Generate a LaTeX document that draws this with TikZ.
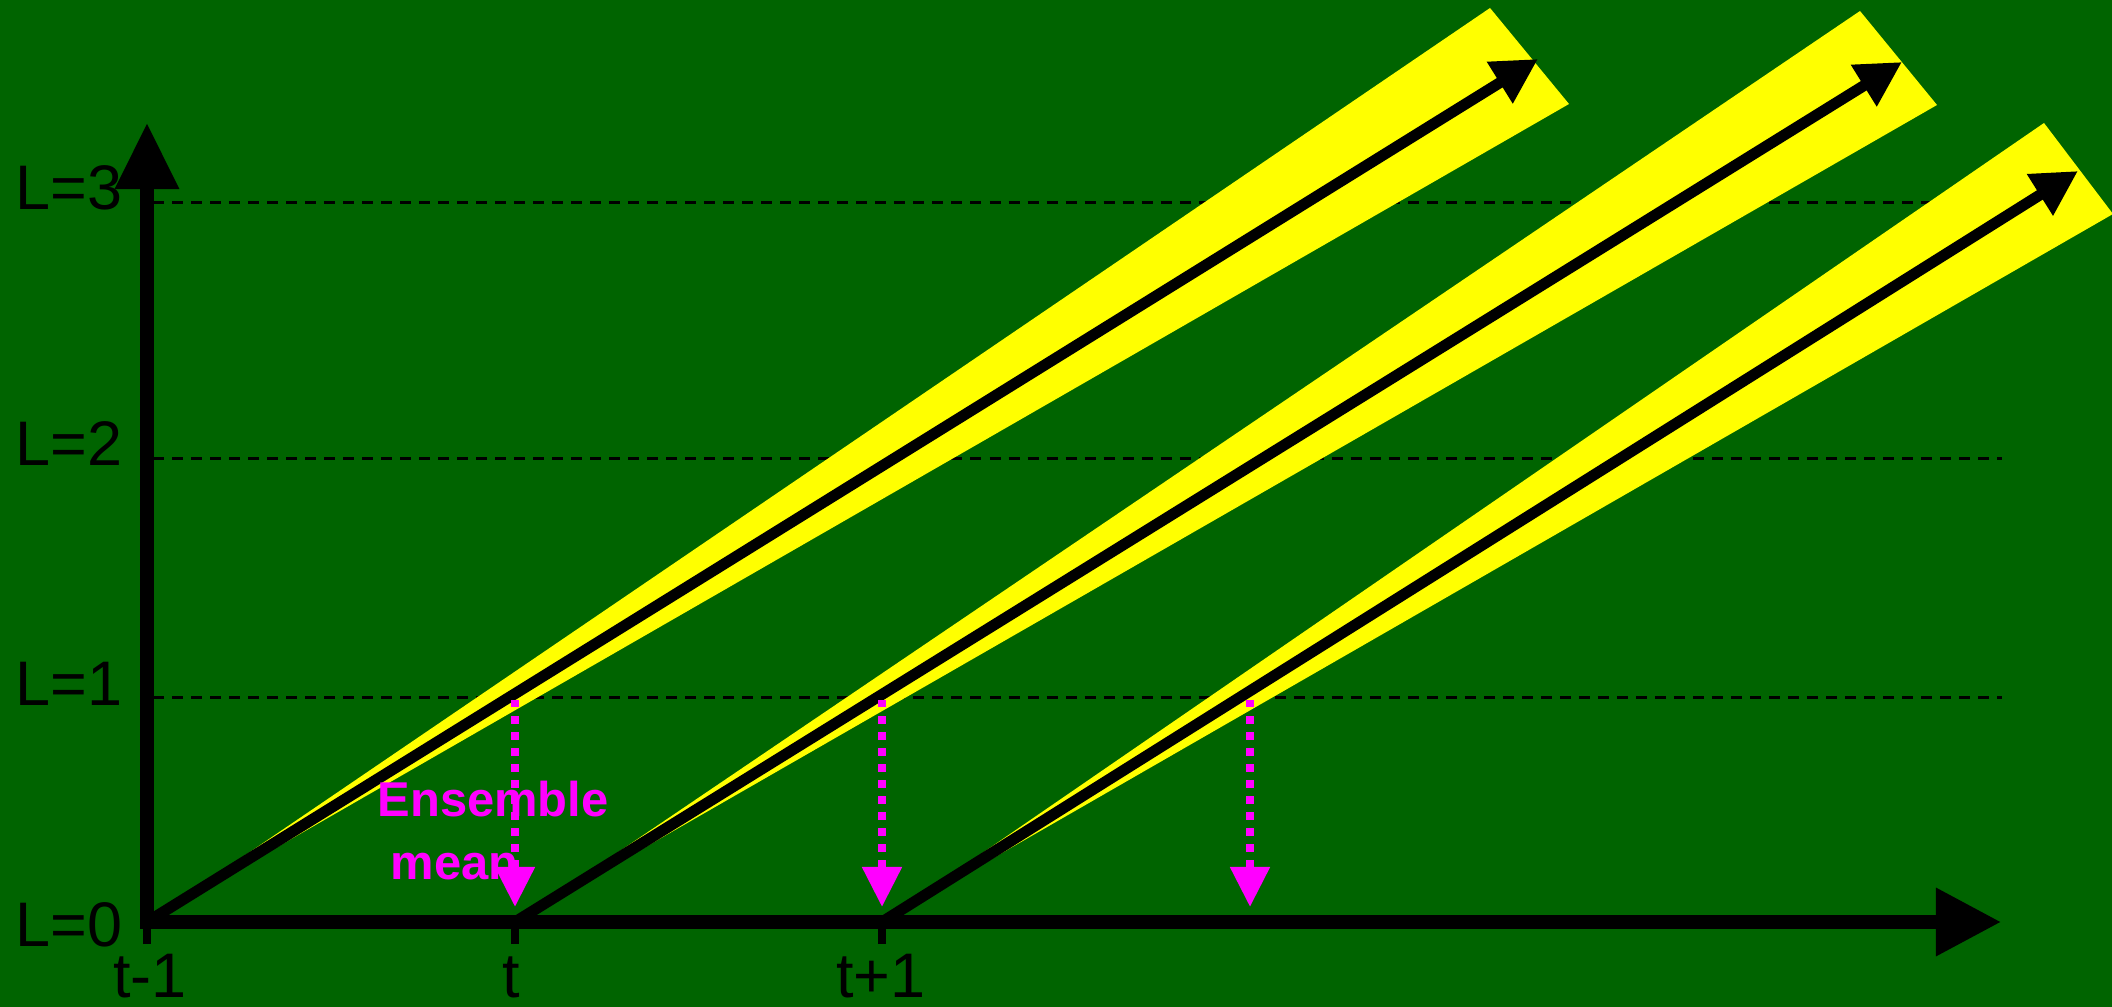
\documentclass[tikz,border=0pt]{standalone}
\usepackage{fontspec}
\setmainfont{Liberation Sans}
\usetikzlibrary{arrows.meta}

\definecolor{bggreen}{HTML}{006400}
\definecolor{bandyellow}{HTML}{FFFF00}
\definecolor{meanmag}{HTML}{FF00FF}

\begin{document}
\begin{tikzpicture}[
	x=0.01cm, y=-0.01cm,
	axis/.style={line width=0.13cm, black},
	tickmark/.style={line width=0.08cm, black},
	level/.style={line width=0.03cm, black, dash pattern=on 0.11cm off 0.08cm},
	band/.style={fill=bandyellow, draw=none},
	traj/.style={-{Triangle[length=0.45cm, width=0.46cm]}, line width=0.11cm, black},
	meanarr/.style={-{Triangle[length=0.40cm, width=0.38cm]}, line width=0.08cm,
		meanmag, dash pattern=on 0.075cm off 0.085cm},
	lvl/.style={font=\fontsize{17.9}{21}\selectfont, inner sep=0pt, anchor=base east},
	tlbl/.style={font=\fontsize{17.9}{21}\selectfont, inner sep=0pt, anchor=base},
	mlbl/.style={font=\bfseries\fontsize{13.9}{17.9}\selectfont, text=meanmag,
		align=left, inner sep=0pt, anchor=north west}
	]
	
	%% ── Canvas ──────────────────────────────────────────────────────────
	\useasboundingbox (0,0) rectangle (2112,1007);
	\clip (0,0) rectangle (2112,1007);
	\fill[bggreen] (0,0) rectangle (2112,1007);
	
	%% ── Time points on the axis ─────────────────────────────────────────
	\coordinate (tm1)  at (147,922);
	\coordinate (t0)   at (515,922);
	\coordinate (tp1)  at (882,922);
	\coordinate (tp2)  at (1250,922);
	\coordinate (ytop) at (147,123);
	\coordinate (xend) at (2001,922);
	
	%% ── Level lines and labels ──────────────────────────────────────────
	\foreach \y in {698, 459, 203}
	\draw[level] (153,\y) -- (2002,\y);
	
	\foreach \n/\b in {0/947, 1/706, 2/466, 3/210}
	\node[lvl] (lev\n) at (123,\b) {L=\n};
	
	%% ── Forecast spread (bands) and trajectories ────────────────────────
	\foreach \o/\tx/\ty/\rx/\ry/\ax/\ay in {
		tm1/1343/-914/1422/-818/1391/-863,
		t0/1345/-911/1422/-817/1387/-860,
		tp1/1162/-799/1231/-708/1196/-751} {
		\fill[band] (\o) -- +(\tx,\ty) -- +(\rx,\ry) -- cycle;
		\draw[traj] (\o) -- +(\ax,\ay);
	}
	
	%% ── Axes, ticks, tick labels ────────────────────────────────────────
	\foreach \c in {tm1, t0, tp1}
	\draw[tickmark] (\c) -- ++(0,22);
	
	\draw[axis, -{Triangle[length=0.66cm, width=0.61cm]}] (tm1) -- (ytop);
	\draw[axis, -{Triangle[length=0.65cm, width=0.65cm]}] ([xshift=-0.065cm]tm1) -- (xend);
	
	\node[tlbl] (ltm1) at (150,998) {t-1};
	\node[tlbl] (lt0)  at (511,998) {t};
	\node[tlbl] (ltp1) at (881,998) {t+1};
	
	%% ── Ensemble mean projections ───────────────────────────────────────
	\foreach \n/\x in {a/515, b/882, c/1250} {
		\coordinate (top\n) at (\x,700);
		\coordinate (bot\n) at (\x,907);
		\draw[meanarr] (top\n) -- (bot\n);
	}
	
	\node[mlbl] (ensmean) at (377,780) {Ensemble\\\hspace*{0.13cm}mean};
	
\end{tikzpicture}
\end{document}
